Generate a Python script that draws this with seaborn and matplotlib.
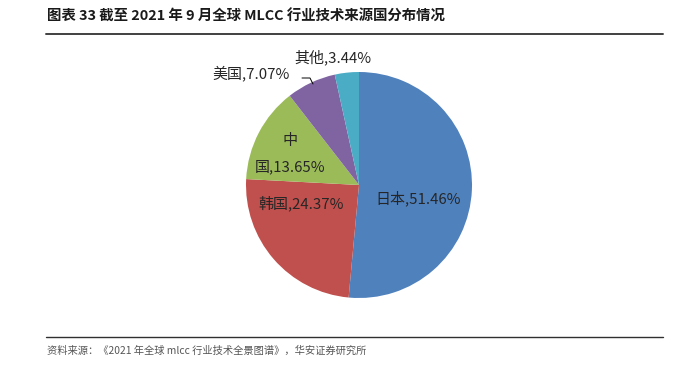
import matplotlib
matplotlib.use("Agg")
import matplotlib.pyplot as plt
import seaborn as sns

# data
countries = ["日本", "韩国", "中国", "美国", "其他"]
shares = [51.46, 24.37, 13.65, 7.07, 3.44]
colors = ["#4F81BD", "#C0504D", "#9BBB59", "#8064A2", "#4BACC6"]

title = "图表 33 截至 2021 年 9 月全球 MLCC 行业技术来源国分布情况"
source = "资料来源：《2021 年全球 mlcc 行业技术全景图谱》，华安证券研究所"

sns.set_theme(style="white")
plt.rcParams['font.family'] = ['Noto Sans CJK SC', 'DejaVu Sans']

W, H = 680, 370
fig = plt.figure(figsize=(6.8, 3.7), dpi=100)

# pie center / radius in pixels
cx, cy, r = 359, 185, 113
half = 125
ax = fig.add_axes([(cx - half) / W, (H - cy - half) / H, 2 * half / W, 2 * half / H])
ax.pie(shares, colors=colors, startangle=90, counterclock=False, radius=1,
       wedgeprops=dict(linewidth=0))
lim = half / r
ax.set_xlim(-lim, lim)
ax.set_ylim(-lim, lim)
ax.set_aspect("equal")
ax.axis("off")


def px(x, y):
    return (x - cx) / r, (cy - y) / r


fs = 10.8
ax.text(*px(418, 198), f"{countries[0]},{shares[0]:.2f}%", ha="center", va="center", fontsize=fs)
ax.text(*px(301, 203), f"{countries[1]},{shares[1]:.2f}%", ha="center", va="center", fontsize=fs)
ax.text(*px(290, 141), countries[2][0], ha="center", va="center", fontsize=fs)
ax.text(*px(290, 167), f"{countries[2][1]},{shares[2]:.2f}%", ha="center", va="center", fontsize=fs)
ax.text(*px(251, 73), f"{countries[3]},{shares[3]:.2f}%", ha="center", va="center", fontsize=fs)
ax.text(*px(333, 57), f"{countries[4]},{shares[4]:.2f}%", ha="center", va="center", fontsize=fs)

# leader line for 美国
p1, p2, p3 = px(302, 78), px(310, 78), px(313, 84)
ax.plot([p1[0], p2[0], p3[0]], [p1[1], p2[1], p3[1]], color="black", lw=0.7, clip_on=False)

# title, rules, source
fig.text(47 / W, 1 - 17 / H, title, fontsize=10.4, fontweight="bold", ha="left", va="center", color="#1a1a1a")
fig.add_artist(plt.Line2D([46 / W, 663 / W], [1 - 33.5 / H] * 2, color="#404040", lw=1.4))
fig.add_artist(plt.Line2D([46 / W, 663 / W], [1 - 336.5 / H] * 2, color="#303030", lw=1.0))
fig.text(47 / W, 1 - 351 / H, source, fontsize=7.4, ha="left", va="center", color="#555555")

fig.savefig("out.png", dpi=100)
